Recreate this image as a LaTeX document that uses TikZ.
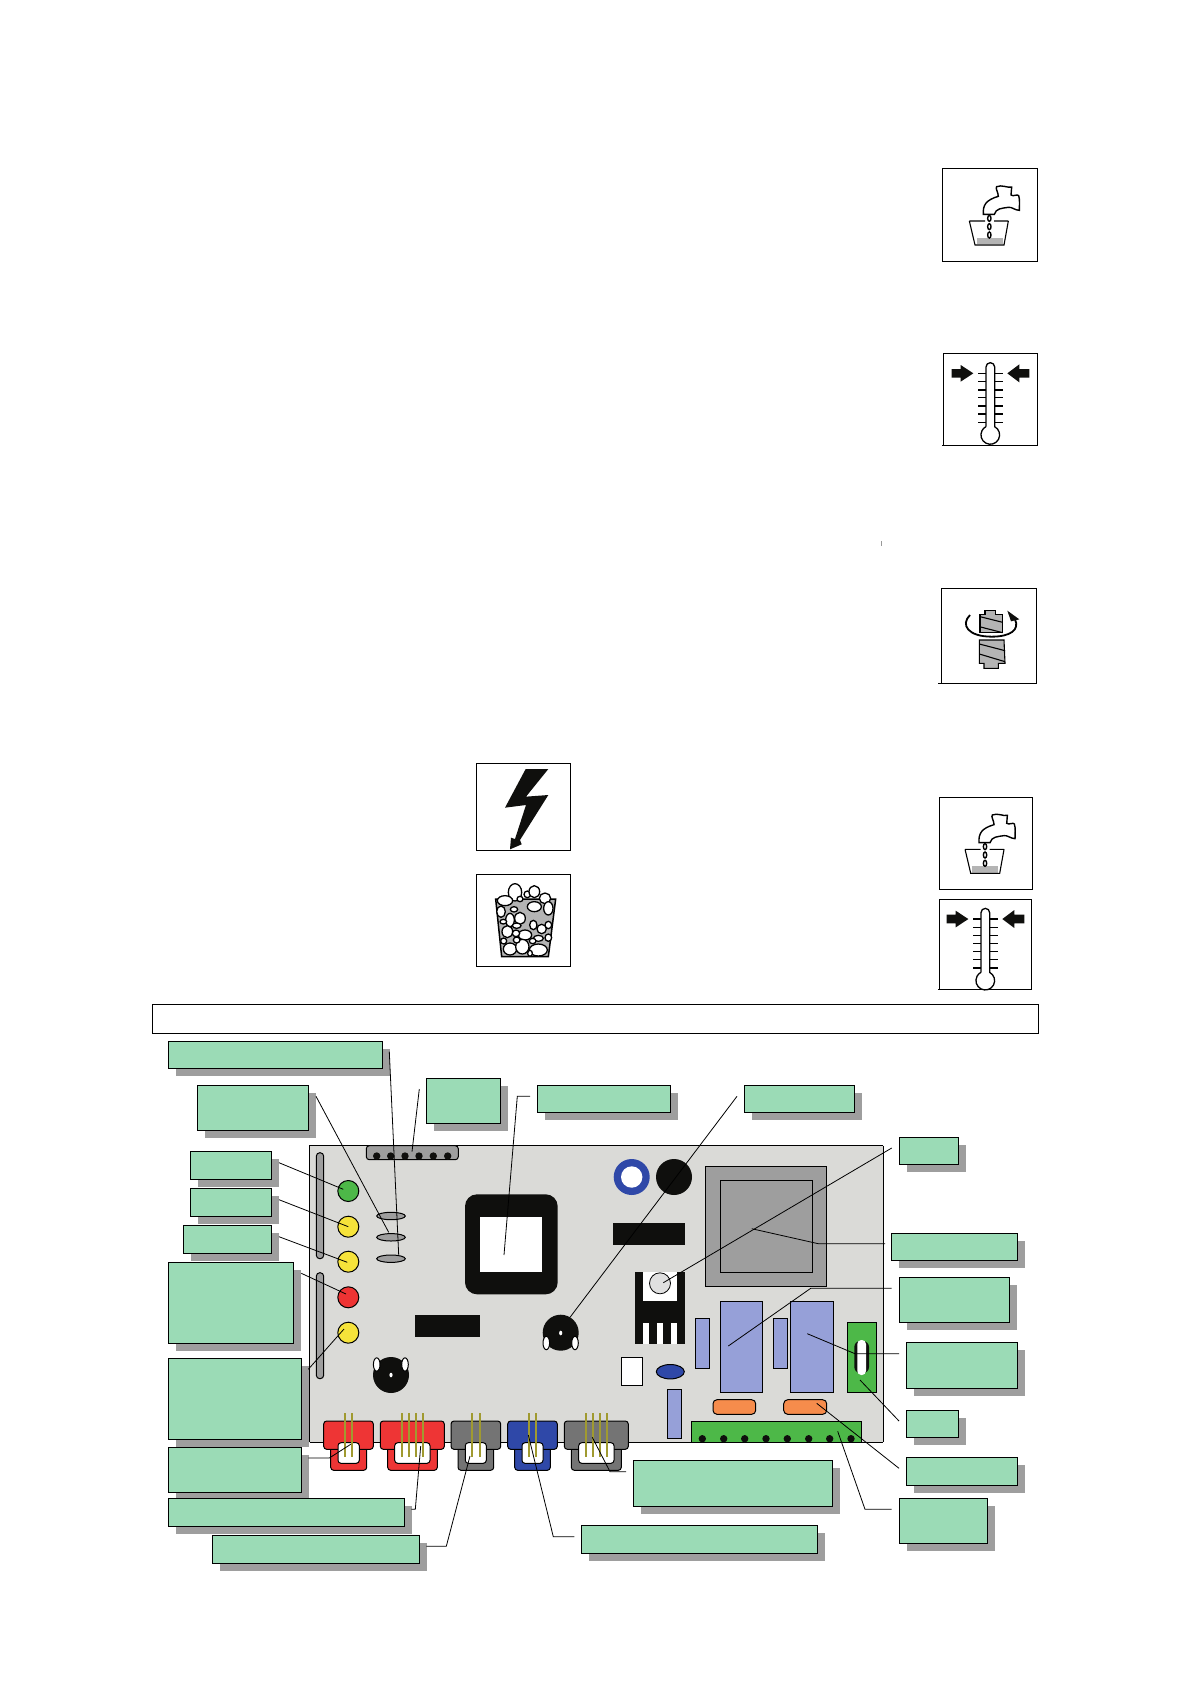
\documentclass[tikz,border=0pt]{standalone}
\usetikzlibrary{calc}
\definecolor{gboxfill}{HTML}{9BDBB6}
\definecolor{shadowgrey}{HTML}{9E9E9E}
\definecolor{boardgrey}{HTML}{DADAD7}
\definecolor{partblue}{HTML}{96A0D8}
\definecolor{deepblue}{HTML}{2F48A8}
\definecolor{ledgreen}{HTML}{4DB848}
\definecolor{ledyellow}{HTML}{F6E33A}
\definecolor{ledred}{HTML}{EE3333}
\definecolor{connred}{HTML}{EE3535}
\definecolor{conngrey}{HTML}{747474}
\definecolor{pinolive}{HTML}{A09A30}
\definecolor{partorange}{HTML}{F68C4C}
\definecolor{blk}{HTML}{0F0F0D}
\definecolor{hatchgrey}{HTML}{B4B4B4}
\tikzset{
  gbox/.style={draw=black,fill=gboxfill,line width=0.9pt,inner sep=0pt,outer sep=0pt},
  leader/.style={draw=black,line width=0.8pt},
  part/.style={draw=black,line width=1pt},
  frame/.style={draw=black,line width=0.9pt,fill=white},
  icon/.style={draw=black,line width=1.1pt},
  pin/.style={draw=pinolive,line width=2pt},
}
% name, x1, y1, x2, y2
\newcommand\gbx[5]{%
  \fill[shadowgrey] ({#2+7.3},{#3+7.3}) rectangle ({#4+7.3},{#5+7.3});
  \node[gbox,minimum width={(#4-(#2))*1pt},minimum height={(#5-(#3))*1pt}] (#1) at ({(#2+#4)/2},{(#3+#5)/2}) {};}
% x1,x2,lx1,lx2,wx1,wx2,colour
\newcommand\conn[7]{%
  \draw[part,fill=#7,rounded corners=3pt] (#3,1440) rectangle (#4,1470.3);
  \draw[part,fill=#7,rounded corners=3pt] (#1,1421) rectangle (#2,1449.3);
  \draw[part,fill=white,rounded corners=3pt] (#5,1442.7) rectangle (#6,1463.3);}
% faucet: drawn in zoom pixels
\newcommand\tapicon[2]{%
  \begin{scope}[shift={(#1,#2)},scale=1/3]
    \fill[hatchgrey] (140,248) rectangle (218,268);
    \draw[icon] (118,198) -- (135,270) -- (222,270) -- (235,198) (118,198) -- (165,198) (192,198) -- (235,198);
    \foreach \q in {190,215,240} \draw[icon,line width=1.4pt] (178,\q) ellipse[x radius=5,y radius=9];
    \draw[icon,line width=1.4pt,fill=white] (160,178) .. controls (158,150) and (168,135) .. (205,124)
      .. controls (205,112) and (195,100) .. (200,95) .. controls (215,88) and (235,100) .. (245,96)
      .. controls (248,105) and (240,112) .. (243,120) .. controls (250,126) and (262,116) .. (266,122)
      .. controls (270,135) and (268,150) .. (268,166) .. controls (255,166) and (245,155) .. (235,157)
      .. controls (215,160) and (198,160) .. (193,178) -- cycle;
  \end{scope}}
% thermometer
\newcommand\thermicon[2]{%
  \begin{scope}[shift={(#1,#2)},scale=1/3]
    \foreach \q in {85,110,135,158,183,207,232} {
      \draw[icon] (145,\q) -- (168,\q);
      \draw[icon] (194,\q) -- (218,\q);}
    \draw[icon,line width=1.3pt,fill=white] (168,245) -- (168,66) arc[start angle=180,end angle=360,radius=13] -- (194,245) arc[start angle=-62,end angle=242,radius=28];
    \fill[blk] (65,72) -- (92,72) -- (92,60) -- (130,85) -- (92,110) -- (92,98) -- (65,98) -- cycle;
    \fill[blk] (298,72) -- (268,72) -- (268,58) -- (232,85) -- (268,112) -- (268,98) -- (298,98) -- cycle;
  \end{scope}}
\begin{document}
\begin{tikzpicture}[x=1pt,y=-1pt]
\useasboundingbox[fill=white] (0,0) rectangle (1190,1684);

% --- symbol frames ---
\draw[frame] (942.7,168.3) rectangle (1037.3,261.7);
\tapicon{930}{155}
\draw[frame] (943.3,353.3) rectangle (1037.3,445);
\draw[icon,line width=0.9pt] (942,445) -- (1037.3,445);
\thermicon{930}{345}

\draw[frame] (941,588.3) rectangle (1036.7,683.3);
\draw[icon,line width=0.9pt] (938,683.3) -- (1036.7,683.3);
\begin{scope}[shift={(930,580)},scale=1/3]
  \draw[icon,fill=hatchgrey] (165,92) -- (197,92) -- (197,103) -- (218,103) -- (218,158) -- (150,158) -- (150,103) -- (165,103) -- cycle;
  \draw[icon,fill=hatchgrey] (148,180) -- (222,180) -- (225,250) -- (205,250) -- (205,265) -- (162,265) -- (162,250) -- (148,250) -- cycle;
  \draw[icon] (150,110) -- (218,127) (148,140) -- (218,158) (148,192) -- (225,212) (148,222) -- (225,245);
  \draw[icon,line width=1.8pt] (120,105) .. controls (90,135) and (115,170) .. (185,170) .. controls (240,170) and (270,150) .. (255,118);
  \fill[blk] (232,92) -- (268,118) -- (243,124) -- cycle;
\end{scope}

\draw[frame] (476.7,763.3) rectangle (570.7,850.3);
\begin{scope}[shift={(465,755)},scale=1/3]
  \fill[blk] (182,42) -- (250,42) -- (183,125) -- (250,120) -- (165,255) -- (170,268) -- (135,283) -- (138,248) -- (150,252) -- (183,150) -- (120,158) -- cycle;
\end{scope}

\draw[frame] (476.7,874.3) rectangle (570.7,966.3);
\begin{scope}[shift={(465,755)},scale=1/3]
  \draw[icon,line width=1.5pt,fill=hatchgrey] (92,432) -- (272,432) -- (250,605) -- (110,605) -- cycle;
  \foreach \a/\b/\c/\d in {150/412/20/26,187/418/10/10,208/410/16/18,120/437/23/15,240/430/17/16,165/432/9/8,108/470/13/17,147/463/11/8,208/455/21/15,250/460/14/20,165/490/16/18,135/495/13/20,115/500/10/7,205/510/11/14,250/510/10/11,230/522/14/14,155/512/13/8,127/530/16/18,180/540/20/15,153/535/11/10,220/550/15/9,250/548/10/11,203/558/10/8,116/558/9/9,135/582/20/18,172/575/20/22,155/555/10/9,220/585/27/18,195/595/7/9}
    \draw[icon,fill=white,line width=1.3pt] (\a,\b) ellipse[x radius=\c,y radius=\d];
\end{scope}

\draw[frame] (939.3,797.3) rectangle (1032.3,889.3);
\tapicon{925.7}{783.3}
\draw[frame] (939.3,899.3) rectangle (1031.7,989);
\draw[icon,line width=0.9pt] (938,989) -- (1031.7,989);
\thermicon{925}{890.7}

\draw[black!40,line width=0.5pt] (881.5,541) -- (881.5,546);

% --- title bar ---
\node[draw=black,line width=0.9pt,fill=white,minimum width=886.5pt,minimum height=29.3pt,inner sep=0pt] (titlebar) at (595.4,1018.7) {};

% --- board ---
\fill[boardgrey] (309.7,1145.7) rectangle (883.3,1442.3);
\draw[black,line width=0.9pt] (309.7,1442.3) -- (309.7,1145.7) -- (883.3,1145.7);
\draw[black,line width=1.4pt] (883.3,1145.7) -- (883.3,1442.3);
\draw[black,line width=0.9pt] (309.7,1442.3) -- (883.3,1442.3);

\draw[part,fill=shadowgrey,rounded corners=3pt] (366.3,1145.7) rectangle (458.3,1159.7);
\foreach \q in {376.7,390.7,405,419,433.3,447.7} \fill[blk] (\q,1156) circle[radius=3.7];
\draw[part,fill=shadowgrey,rounded corners=3.5pt] (316.3,1152.7) rectangle (323.7,1258.7);
\draw[part,fill=shadowgrey,rounded corners=3.5pt] (316.3,1272.7) rectangle (323.7,1378.7);

\foreach \q/\c in {1191/ledgreen,1226.7/ledyellow,1261.7/ledyellow,1297.3/ledred,1332.7/ledyellow}
  \draw[part,fill=\c] (348.3,\q) circle[radius=10.5];
\foreach \q in {1216,1237.3,1258.7}
  \draw[part,fill=shadowgrey] (391,\q) ellipse[x radius=14.3,y radius=3.7];

\fill[blk,rounded corners=12pt] (465,1194.3) rectangle (557.7,1294.3);
\fill[white] (480,1217) rectangle (542,1272);
\fill[blk] (415,1315) rectangle (480,1336.7);

% potentiometers
\fill[blk] (560.7,1332.7) circle[radius=18];
\draw[part,fill=white] (546.3,1343) ellipse[x radius=3.3,y radius=6.7];
\draw[part,fill=white] (575,1343) ellipse[x radius=3.3,y radius=6.7];
\fill[white] (560.7,1333) ellipse[x radius=1.6,y radius=2.3];
\fill[blk] (391,1375) circle[radius=18];
\draw[part,fill=white] (376.7,1364.5) ellipse[x radius=3.3,y radius=6.7];
\draw[part,fill=white] (405,1364.5) ellipse[x radius=3.3,y radius=6.7];
\fill[white] (391,1375) ellipse[x radius=1.6,y radius=2.3];

\fill[deepblue] (631.7,1177) circle[radius=18];
\fill[white] (631.7,1177) circle[radius=10.7];
\fill[blk] (674,1177) circle[radius=18];
\fill[blk] (613,1223) rectangle (685,1244.7);

% transformer
\draw[black,line width=1.2pt,fill=shadowgrey] (705.7,1166.3) rectangle (826.7,1286.7);
\draw[part,fill=shadowgrey] (720.3,1180.3) rectangle (812.7,1272.3);

% regulator
\fill[blk] (635.3,1272.3) rectangle (685,1343.7);
\fill[white] (643,1272.3) rectangle (677,1300.7);
\foreach \q in {643,657,671} \fill[white] (\q,1323.3) rectangle (\q+6,1343.7);
\draw[part,fill=black!12,line width=0.8pt] (660,1283.3) circle[radius=10.5];

% blue parts
\draw[black,line width=0.8pt,fill=partblue] (695.3,1318.3) rectangle (709.7,1368.3);
\draw[black,line width=1.4pt,fill=partblue] (720.3,1301.3) rectangle (762.7,1392.7);
\draw[black,line width=0.8pt,fill=partblue] (773.3,1318.3) rectangle (787.7,1368.3);
\draw[black,line width=1.4pt,fill=partblue] (790.7,1301.3) rectangle (833.7,1392.7);
\draw[black,line width=0.8pt,fill=partblue] (667.3,1389.3) rectangle (681.7,1438.7);

% fuse holder
\draw[black,line width=1pt,fill=ledgreen] (847.3,1322.7) rectangle (876.7,1392.7);
\fill[blk,rounded corners=6pt] (854.3,1341) rectangle (869,1373);
\fill[white,rounded corners=4pt] (857.3,1340) rectangle (866,1375);

\draw[part,fill=white] (621.3,1357.3) rectangle (642.7,1385.3);
\draw[part,fill=deepblue] (670.3,1371.7) ellipse[x radius=14,y radius=7.2];

\draw[part,fill=partorange,rounded corners=4pt] (713,1399.7) rectangle (755.7,1414.3);
\draw[part,fill=partorange,rounded corners=4pt] (783.7,1399.7) rectangle (826.7,1414.3);

% terminal block
\draw[part,fill=ledgreen] (691.3,1421.3) rectangle (861.7,1442.3);
\foreach \q in {702.3,723.7,744.7,766,787.3,808.7,829.7,851} \fill[blk] (\q,1438.7) circle[radius=3.7];

% plug connectors
\conn{323.7}{373.3}{330.7}{366.7}{338}{359.3}{connred}
\conn{380.3}{444.3}{387.7}{437.3}{394.7}{430}{connred}
\conn{451}{500.7}{458}{493.7}{465.3}{486.3}{conngrey}
\conn{507.7}{557.3}{514.7}{550.3}{522}{543}{deepblue}
\conn{564.3}{628.3}{571.3}{621.3}{578.7}{614}{conngrey}
\foreach \q in {345,352,401.7,409,416,423,472.3,479.7,529,536,585.7,593,600,607}
  \draw[pin] (\q,1413.3) -- (\q,1457.3);

% --- label boxes ---
\gbx{A}{168.3}{1041.3}{382.7}{1068.7}
\gbx{B}{197.3}{1085.3}{308.7}{1130.3}
\gbx{C}{426.3}{1078.3}{500.7}{1123.3}
\gbx{D}{537.3}{1085.3}{670.7}{1112.7}
\gbx{E}{190.3}{1151.3}{271.7}{1179.3}
\gbx{F}{190.3}{1188.3}{271.7}{1216.3}
\gbx{G}{183.3}{1225.3}{271.7}{1253.3}
\gbx{H}{168.3}{1262.3}{293.7}{1343.3}
\gbx{I}{168.3}{1358.3}{301.7}{1439.3}
\gbx{J}{168.3}{1447.3}{301.7}{1492.7}
\gbx{K}{168.3}{1498.3}{404.7}{1526.3}
\gbx{L}{212.3}{1535.3}{419.7}{1563.3}
\gbx{M}{744.3}{1085.3}{854.7}{1112.7}
\gbx{N}{899.3}{1137.3}{958.7}{1164.7}
\gbx{O}{891.3}{1233.3}{1017.7}{1260.3}
\gbx{P}{899.3}{1277.3}{1009.7}{1322.7}
\gbx{Q}{906.3}{1342.3}{1017.7}{1388.3}
\gbx{R}{906.3}{1410.3}{958.7}{1437.7}
\gbx{S}{906.3}{1457.3}{1017.7}{1485.3}
\gbx{T}{899.3}{1498.3}{987.7}{1543.3}
\gbx{U}{633.3}{1460.3}{832.7}{1506.3}
\gbx{V}{581.3}{1525.3}{817.3}{1553.3}

% --- leader ends ---
\coordinate (a1) at (389.3,1051.7); \coordinate (a2) at (398.7,1255);
\coordinate (c1) at (419.3,1089);   \coordinate (c2) at (412,1151.7);
\coordinate (b1) at (316,1096.3);   \coordinate (b2) at (388.7,1232.3);
\coordinate (e1) at (279,1162.7);   \coordinate (e2) at (343.3,1189.3);
\coordinate (f1) at (279,1199.7);   \coordinate (f2) at (348.3,1226.7);
\coordinate (g1) at (279,1236.7);   \coordinate (g2) at (347.3,1262.3);
\coordinate (h1) at (301.3,1273.3); \coordinate (h2) at (346,1294);
\coordinate (i1) at (308.3,1369.3); \coordinate (i2) at (344,1329);
\coordinate (d1) at (530,1096.3);   \coordinate (d2) at (517.3,1096.3); \coordinate (d3) at (504,1255);
\coordinate (m1) at (737,1096.3);   \coordinate (m2) at (570,1317.3);
\coordinate (n1) at (891.7,1148);   \coordinate (n2) at (663.3,1282.7);
\coordinate (o1) at (885,1243.7);   \coordinate (o2) at (818.3,1243.7); \coordinate (o3) at (751.7,1228.7);
\coordinate (p1) at (891.7,1288.3); \coordinate (p2) at (810.7,1288.3); \coordinate (p3) at (728.3,1346);
\coordinate (q1) at (899,1353.7);   \coordinate (q2) at (855,1353.7);   \coordinate (q3) at (807.3,1333.7);
\coordinate (r1) at (899,1421);     \coordinate (r2) at (860,1380);
\coordinate (s1) at (899,1468.3);   \coordinate (s2) at (816.7,1403.3);
\coordinate (t1) at (891.7,1509.3); \coordinate (t2) at (865,1509.3);   \coordinate (t3) at (837.7,1431.3);
\coordinate (u1) at (626,1471.7);   \coordinate (u2) at (610,1471.7);   \coordinate (u3) at (592.3,1437.3);
\coordinate (v1) at (574.3,1536.7); \coordinate (v2) at (553.3,1536.7); \coordinate (v3) at (528.3,1435);
\coordinate (l1) at (426.3,1546.3); \coordinate (l2) at (446.3,1546.3); \coordinate (l3) at (470,1456);
\coordinate (k1) at (411.3,1509.3); \coordinate (k2) at (415.3,1509.3); \coordinate (k3) at (420.7,1446);
\coordinate (j1) at (308.3,1458);   \coordinate (j2) at (329.3,1458);   \coordinate (j3) at (350.7,1444.3);

% --- leaders ---
\draw[leader] (a1) -- (a2);
\draw[leader] (c1) -- (c2);
\draw[leader] (b1) -- (b2);
\draw[leader] (e1) -- (e2);
\draw[leader] (f1) -- (f2);
\draw[leader] (g1) -- (g2);
\draw[leader] (h1) -- (h2);
\draw[leader] (i1) -- (i2);
\draw[leader] (d1) -- (d2) -- (d3);
\draw[leader] (m1) -- (m2);
\draw[leader] (n1) -- (n2);
\draw[leader] (o1) -- (o2) -- (o3);
\draw[leader] (p1) -- (p2) -- (p3);
\draw[leader] (q1) -- (q2) -- (q3);
\draw[leader] (r1) -- (r2);
\draw[leader] (s1) -- (s2);
\draw[leader] (t1) -- (t2) -- (t3);
\draw[leader] (u1) -- (u2) -- (u3);
\draw[leader] (v1) -- (v2) -- (v3);
\draw[leader] (l1) -- (l2) -- (l3);
\draw[leader] (k1) -- (k2) -- (k3);
\draw[leader] (j1) -- (j2) -- (j3);
\end{tikzpicture}
\end{document}
